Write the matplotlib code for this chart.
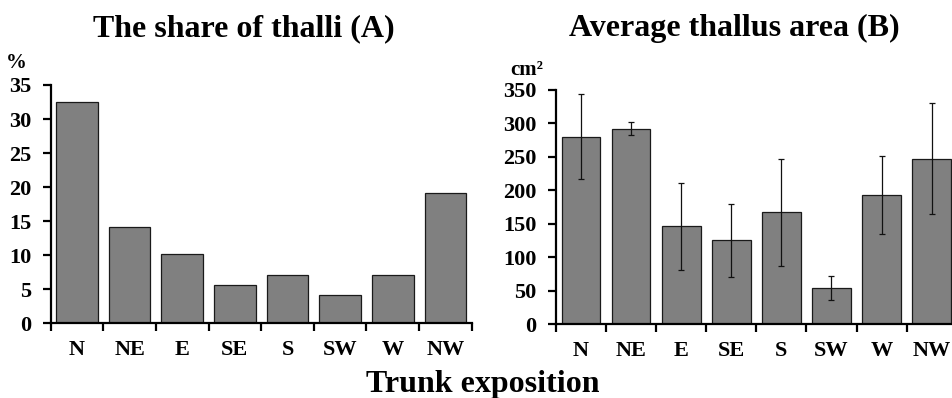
import matplotlib
matplotlib.use("Agg")
import matplotlib.pyplot as plt
import numpy as np

categories = ["N", "NE", "E", "SE", "S", "SW", "W", "NW"]
share_pct = [32.5, 14.2, 10.2, 5.6, 7.1, 4.1, 7.1, 19.2]
area_cm2 = [280, 292, 146, 125, 167, 54, 193, 247]
area_err = [63, 10, 65, 55, 80, 18, 58, 83]

plt.rcParams['font.family'] = ['Liberation Serif', 'DejaVu Serif']
plt.rcParams['font.weight'] = 'bold'

fig = plt.figure(figsize=(9.53, 3.98), dpi=100)
W, H = 953, 398

def add_ax(x0, x1, ytop, ybot):
    return fig.add_axes([x0 / W, (H - ybot) / H, (x1 - x0) / W, (ybot - ytop) / H])

axA = add_ax(50.7, 471.7, 85, 323.3)
axB = add_ax(556, 956.7, 89.7, 324)

x = np.arange(len(categories))
bar_face = '#808080'
edge = '#1a1a1a'

axA.bar(x, share_pct, width=0.79, color=bar_face, edgecolor=edge, linewidth=0.9)
axB.bar(x, area_cm2, width=0.77, color=bar_face, edgecolor=edge, linewidth=0.9)
axB.errorbar(x, area_cm2, yerr=area_err, fmt='none', ecolor='#111111',
             elinewidth=0.9, capsize=2.2, capthick=0.9)

for ax, ymax, step in [(axA, 35, 5), (axB, 350, 50)]:
    ax.set_xlim(-0.5, len(categories) - 0.5)
    ax.set_ylim(0, ymax)
    ax.set_yticks(np.arange(0, ymax + 1, step))
    ax.set_xticks(x)
    ax.set_xticklabels(categories)
    ax.set_xticks(np.arange(-0.5, len(categories), 1.0), minor=True)
    for s in ['top', 'right']:
        ax.spines[s].set_visible(False)
    for s in ['left', 'bottom']:
        ax.spines[s].set_linewidth(1.6)
        ax.spines[s].set_color('black')
    ax.tick_params(axis='x', which='major', length=0, pad=12, labelsize=16)
    ax.tick_params(axis='x', which='minor', length=6, width=1.6, direction='out')
    ax.tick_params(axis='y', which='major', length=6, width=1.6, direction='out',
                   pad=8, labelsize=16)
    for lab in ax.get_xticklabels() + ax.get_yticklabels():
        lab.set_fontweight('bold')

fig.text(244 / W, 1 - 36 / H, "The share of thalli (A)", ha='center', va='baseline',
         fontsize=23, fontweight='bold')
fig.text(734 / W, 1 - 36 / H, "Average thallus area (B)", ha='center', va='baseline',
         fontsize=23, fontweight='bold')
fig.text(483 / W, 1 - 392 / H, "Trunk exposition", ha='center', va='baseline',
         fontsize=23, fontweight='bold')
fig.text(16 / W, 1 - 68 / H, "%", ha='center', va='baseline', fontsize=15, fontweight='bold')
fig.text(527 / W, 1 - 75 / H, "cm²", ha='center', va='baseline', fontsize=15, fontweight='bold')

fig.savefig("out.png", dpi=100)
